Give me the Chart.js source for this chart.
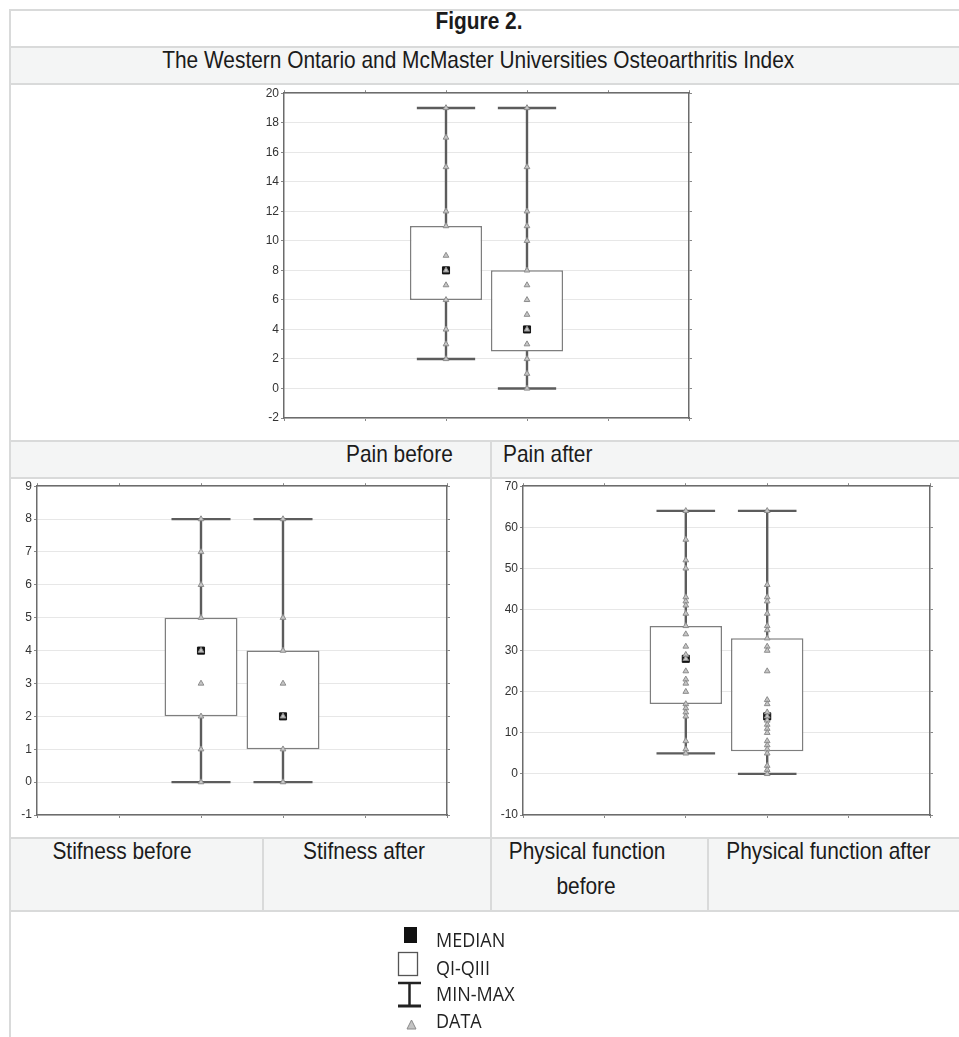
<!DOCTYPE html>
<html>
<head>
<meta charset="utf-8">
<title>Figure 2. WOMAC</title>
<script src="https://cdn.jsdelivr.net/npm/chart.js@4.4.1/dist/chart.umd.min.js"></script>
<style>
  html, body { margin: 0; padding: 0; background: #fff; }
  body { width: 959px; height: 1037px; position: relative; overflow: hidden;
         font-family: "Liberation Sans", Arial, sans-serif; color: #1b1b1b; }
  .band { position: absolute; left: 10px; width: 949px; background: #f4f5f5; }
  .hl { position: absolute; left: 9px; width: 950px; height: 2px; background: #d9dada; }
  .vl { position: absolute; width: 2px; background: #d9dada; }
  .cell { position: absolute; width: 400px; line-height: 1; font-size: 24px; white-space: nowrap; }
  .cell span { display: inline-block; transform: scaleX(0.87); }
  .c { text-align: center; }
  .c span { transform-origin: center top; }
  .r { text-align: right; width: 300px; }
  .r span { transform-origin: right top; }
  .l { text-align: left; width: 300px; }
  .l span { transform-origin: left top; }
  .legend { position: absolute; left: 436px; font-family: "Open Sans", sans-serif; font-size: 20px;
            line-height: 1; color: #222; white-space: nowrap; transform: scaleX(0.9); transform-origin: left top; }
  canvas { position: absolute; }
</style>
</head>
<body>

<!-- table shading and rules -->
<div class="band" style="top:47px;height:37px"></div>
<div class="band" style="top:441px;height:37px"></div>
<div class="band" style="top:838px;height:73px"></div>

<div class="hl" style="top:9px"></div>
<div class="hl" style="top:46px"></div>
<div class="hl" style="top:83px"></div>
<div class="hl" style="top:440px"></div>
<div class="hl" style="top:477px"></div>
<div class="hl" style="top:837px"></div>
<div class="hl" style="top:910px"></div>
<div class="vl" style="left:9px;top:9px;height:1028px"></div>
<div class="vl" style="left:490px;top:440px;height:398px"></div>
<div class="vl" style="left:262px;top:837px;height:74px"></div>
<div class="vl" style="left:490px;top:837px;height:74px"></div>
<div class="vl" style="left:707px;top:837px;height:74px"></div>

<!-- captions -->
<div class="cell c" style="left:279px;top:9px;font-weight:bold"><span>Figure 2.</span></div>
<div class="cell c" style="left:78px;top:48px;width:800px"><span>The Western Ontario and McMaster Universities Osteoarthritis Index</span></div>
<div class="cell r" style="left:153px;top:442px"><span>Pain before</span></div>
<div class="cell l" style="left:503px;top:442px"><span>Pain after</span></div>
<div class="cell c" style="left:-78px;top:839px"><span>Stifness before</span></div>
<div class="cell c" style="left:164px;top:839px"><span>Stifness after</span></div>
<div class="cell c" style="left:387px;top:839px"><span>Physical function</span></div>
<div class="cell c" style="left:386px;top:874px"><span>before</span></div>
<div class="cell c" style="left:628px;top:839px"><span>Physical function after</span></div>

<!-- charts -->
<canvas id="painChart" width="449" height="348" style="left:250px;top:84px"></canvas>
<canvas id="stiffChart" width="454" height="352" style="left:3px;top:477px"></canvas>
<canvas id="physChart" width="451" height="352" style="left:489px;top:477px"></canvas>

<!-- key -->
<svg width="959" height="1037" style="position:absolute;left:0;top:0;pointer-events:none">
  <rect x="404" y="927" width="13" height="16" fill="#111"/>
  <rect x="398.5" y="952.5" width="19" height="23" fill="#fff" stroke="#555" stroke-width="1.3"/>
  <line x1="409.5" y1="982" x2="409.5" y2="1007" stroke="#222" stroke-width="2.5"/>
  <line x1="398" y1="983" x2="421" y2="983" stroke="#222" stroke-width="2.5"/>
  <line x1="398" y1="1006" x2="421" y2="1006" stroke="#222" stroke-width="3"/>
  <polygon points="411.5,1020 407,1029 416,1029" fill="#c4c4c4" stroke="#8a8a8a" stroke-width="1"/>
</svg>
<div class="legend" style="top:930px">MEDIAN</div>
<div class="legend" style="top:958px">QI-QIII</div>
<div class="legend" style="top:984px">MIN-MAX</div>
<div class="legend" style="top:1011px">DATA</div>

<script>
// WOMAC subscale scores, before and after treatment
const groups = ['before', 'after'];

// Pain
const painMin = [2, 0];
const painQ1 = [6, 2.5];
const painMedian = [8, 4];
const painQ3 = [11, 8];
const painMax = [19, 19];
const painBefore = [19, 17, 15, 12, 11, 9, 8, 7, 6, 4, 3, 2];
const painAfter = [19, 15, 12, 11, 10, 8, 7, 6, 5, 4, 3, 2, 1, 0];
const painTicks = [-2, 0, 2, 4, 6, 8, 10, 12, 14, 16, 18, 20];

// Stiffness
const stiffMin = [0, 0];
const stiffQ1 = [2, 1];
const stiffMedian = [4, 2];
const stiffQ3 = [5, 4];
const stiffMax = [8, 8];
const stiffBefore = [8, 7, 6, 5, 4, 3, 2, 1, 0];
const stiffAfter = [8, 5, 4, 3, 2, 1, 0];
const stiffTicks = [-1, 0, 1, 2, 3, 4, 5, 6, 7, 8, 9];

// Physical function
const physMin = [5, 0];
const physQ1 = [17, 5.5];
const physMedian = [28, 14];
const physQ3 = [36, 33];
const physMax = [64, 64];
const physBefore = [64, 57, 52, 50, 43, 42, 41, 39, 36, 34, 31, 29, 28, 25, 23, 22, 20, 17, 16, 15, 14, 8, 6, 5];
const physAfter = [64, 46, 43, 42, 39, 36, 35, 33, 31, 30, 25, 18, 17, 15, 14, 13, 12, 11, 10, 8, 7, 6, 5, 2, 1, 0];
const physTicks = [-10, 0, 10, 20, 30, 40, 50, 60, 70];

// horizontal slots: the two boxes sit at 2 and 3 on a 0..5 axis
const slotTicks = [0, 1, 2, 3, 4, 5];
const boxSlots = [2, 3];

const frameColor = '#6c6c6c';
const tickFont = { family: '"Liberation Sans", Arial, sans-serif', size: 12 };

function edgeAxis(position, range, size) {
  const horizontal = position === 'top' || position === 'bottom';
  return {
    type: 'linear', position, min: range.min, max: range.max, offset: false,
    ticks: { display: false, stepSize: range.step },
    grid: { drawOnChartArea: false, drawTicks: true, tickLength: 3, tickColor: '#888', offset: false },
    border: { color: frameColor, width: 1.5 },
    afterFit: s => { if (horizontal) s.height = size; else s.width = size; }
  };
}

function rangeOf(ticks) {
  return { min: ticks[0], max: ticks[ticks.length - 1], step: ticks[1] - ticks[0] };
}

function boxPanel(id, stats, samples, yTicks) {
  const yr = rangeOf(yTicks);
  const xr = rangeOf(slotTicks);
  const capHalf = 0.36;

  const whiskers = [];
  boxSlots.forEach((c, i) => {
    const hi = stats.max[i], lo = stats.min[i];
    whiskers.push(
      { x: c - capHalf, y: hi }, { x: c + capHalf, y: hi }, { x: c, y: null },
      { x: c, y: hi }, { x: c, y: lo }, { x: c, y: null },
      { x: c - capHalf, y: lo }, { x: c + capHalf, y: lo }, { x: c, y: null }
    );
  });

  const boxes = boxSlots.map((c, i) => ({ x: c, y: [stats.q1[i], stats.q3[i]] }));
  const medians = boxSlots.map((c, i) => ({ x: c, y: stats.median[i] }));
  const points = [];
  samples.forEach((arr, i) => arr.forEach(v => points.push({ x: boxSlots[i], y: v })));

  new Chart(document.getElementById(id), {
    type: 'scatter',
    data: {
      datasets: [
        { type: 'line', label: 'MIN-MAX', data: whiskers, borderColor: '#5c5c5c', borderWidth: 2.4,
          pointRadius: 0, spanGaps: false, tension: 0, order: 5 },
        { type: 'bar', label: 'QI-QIII', data: boxes, backgroundColor: '#ffffff', borderColor: '#7e7e7e',
          borderWidth: 1.5, borderSkipped: false, categoryPercentage: 0.89, barPercentage: 1,
          grouped: false, order: 3 },
        { type: 'scatter', label: 'MEDIAN', data: medians, pointStyle: 'rect', pointRadius: 5,
          backgroundColor: '#141414', borderColor: '#141414', borderWidth: 1, order: 2 },
        { type: 'scatter', label: 'DATA', data: points, pointStyle: 'triangle', pointRadius: 3.3,
          backgroundColor: '#c6c6c6', borderColor: '#8c8c8c', borderWidth: 1, order: 1 }
      ]
    },
    options: {
      responsive: false,
      animation: false,
      events: [],
      layout: { padding: { left: 0, top: 5, right: 6, bottom: 10 } },
      plugins: { legend: { display: false }, tooltip: { enabled: false } },
      scales: {
        x: edgeAxis('bottom', xr, 4),
        xTop: edgeAxis('top', xr, 4),
        y: {
          type: 'linear', position: 'left', min: yr.min, max: yr.max,
          ticks: { stepSize: yr.step, color: '#333', font: tickFont, padding: 2 },
          grid: { color: '#e7e7e7', lineWidth: 1, drawTicks: true, tickLength: 3, tickColor: '#888' },
          border: { color: frameColor, width: 1.5 },
          afterFit: s => { s.width = 34; }
        },
        yRight: edgeAxis('right', yr, 4)
      }
    }
  });
}

boxPanel('painChart',
  { min: painMin, q1: painQ1, median: painMedian, q3: painQ3, max: painMax },
  [painBefore, painAfter], painTicks);
boxPanel('stiffChart',
  { min: stiffMin, q1: stiffQ1, median: stiffMedian, q3: stiffQ3, max: stiffMax },
  [stiffBefore, stiffAfter], stiffTicks);
boxPanel('physChart',
  { min: physMin, q1: physQ1, median: physMedian, q3: physQ3, max: physMax },
  [physBefore, physAfter], physTicks);
</script>
</body>
</html>
